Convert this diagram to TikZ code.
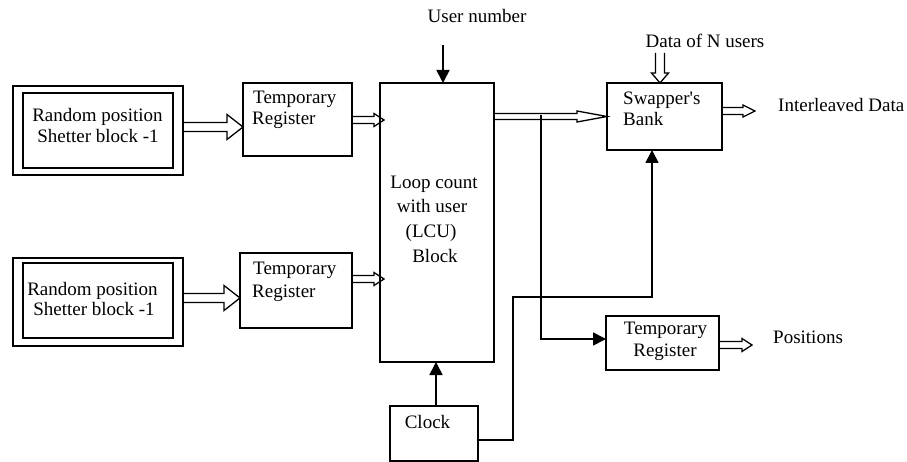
\documentclass[tikz,border=0pt]{standalone}
\usepackage{fontspec}
\setmainfont{Liberation Serif}[Ligatures=TeXOff]
\usetikzlibrary{arrows.meta,calc}
\tikzset{
  box/.style={draw, line width=1.6pt, inner sep=0pt, outer sep=0pt},
  txt/.style={inner sep=0pt, font=\fontsize{19pt}{21pt}\selectfont},
  hollow/.style={draw, line width=1.3pt, line join=miter},
  conn/.style={line width=1.7pt, -{Triangle[length=13pt,width=13pt]}},
  wire/.style={line width=1.7pt}
}
\newcommand\hollowH[5]{\draw[hollow] let \p1=#1, \p2=#2 in
  (\x1,\y1-#3) -- (\x2-#5,\y1-#3) -- (\x2-#5,\y1-#4) -- (\x2,\y1) --
  (\x2-#5,\y1+#4) -- (\x2-#5,\y1+#3) -- (\x1,\y1+#3);}
\newcommand\hollowV[5]{\draw[hollow] let \p1=#1, \p2=#2 in
  (\x1-#3,\y1) -- (\x1-#3,\y2+#5) -- (\x1-#4,\y2+#5) -- (\x1,\y2) --
  (\x1+#4,\y2+#5) -- (\x1+#3,\y2+#5) -- (\x1+#3,\y1);}
\begin{document}
\begin{tikzpicture}[x=1pt,y=-1pt]
\useasboundingbox (0,0) rectangle (907,462);
% boxes
\node[box, minimum width=170pt, minimum height=89pt] (rpo1) at (98,130.5) {};
\node[box, minimum width=150pt, minimum height=75pt] (rpi1) at (98,130.5) {};
\node[box, minimum width=170pt, minimum height=88pt] (rpo2) at (98,302) {};
\node[box, minimum width=150pt, minimum height=75pt] (rpi2) at (98,300.5) {};
\node[box, minimum width=109pt, minimum height=73pt] (tr1) at (297.5,119.5) {};
\node[box, minimum width=112pt, minimum height=75pt] (tr2) at (296,290.5) {};
\node[box, minimum width=114pt, minimum height=279pt] (lcu) at (437,222.5) {};
\node[box, minimum width=115pt, minimum height=67pt] (sw) at (664.5,116.5) {};
\node[box, minimum width=113pt, minimum height=54pt] (tr3) at (662.5,343) {};
\node[box, minimum width=88pt, minimum height=55pt] (clk) at (434,433.5) {};
% texts
\node[txt, anchor=base] (rp1a) at (97.5,122) {Random position};
\node[txt, anchor=base] (rp1b) at (98,143) {Shetter block -1};
\node[txt, anchor=base] (rp2a) at (92.5,295) {Random position};
\node[txt, anchor=base] (rp2b) at (94,315) {Shetter block -1};
\node[txt, anchor=base west] (t1a) at (253,104) {Temporary};
\node[txt, anchor=base west] (t1b) at (252,125) {Register};
\node[txt, anchor=base west] (t2a) at (253,275) {Temporary};
\node[txt, anchor=base west] (t2b) at (252,297) {Register};
\node[txt, anchor=base] (un) at (477,23) {User number};
\node[txt, anchor=base] (l1) at (434,189) {Loop count};
\node[txt, anchor=base] (l2) at (432,213) {with user};
\node[txt, anchor=base] (l3) at (431,238) {(LCU)};
\node[txt, anchor=base] (l4) at (435,262) {Block};
\node[txt, anchor=base west] (s1) at (623,105) {Swapper's};
\node[txt, anchor=base west] (s2) at (623,126) {Bank};
\node[txt, anchor=base] (dn) at (705,48) {Data of N users};
\node[txt, anchor=base west] (il) at (778,112) {Interleaved Data};
\node[txt, anchor=base] (ck) at (427.5,428) {Clock};
\node[txt, anchor=base] (t3a) at (665.5,334) {Temporary};
\node[txt, anchor=base] (t3b) at (665,356) {Register};
\node[txt, anchor=base west] (pos) at (773,343) {Positions};
% hollow arrows
\hollowH{([yshift=3.5pt]rpo1.east)}{(tr1.west)}{4.5pt}{12.5pt}{16pt}
\hollowH{([yshift=4pt]rpo2.east)}{(tr2.west)}{4.5pt}{12.5pt}{16pt}
\hollowH{([yshift=-0.5pt]tr1.east)}{([xshift=4pt]lcu.west)}{3.5pt}{6.5pt}{10pt}
\hollowH{([yshift=11.5pt]tr2.east)}{([xshift=4pt]lcu.west)}{3.5pt}{6.5pt}{10pt}
\hollowH{(lcu.east |- sw.west)}{(sw.west)}{3pt}{5.5pt}{30pt}
\hollowH{([yshift=5.5pt]sw.east)}{([xshift=-23pt]il.west)}{3.5pt}{6pt}{12pt}
\hollowH{([yshift=-2pt]tr3.east)}{([xshift=-21pt]pos.west)}{3.5pt}{6.5pt}{10pt}
\hollowV{([xshift=-45pt,yshift=-5pt]dn.base)}{(sw.north)}{4.5pt}{8.5pt}{10pt}
% solid connectors
\coordinate (unin) at (443,45);
\draw[conn] (unin) -- (unin |- lcu.north);
\draw[conn] ([xshift=2pt]clk.north) -- ([xshift=2pt]clk.north |- lcu.south);
\coordinate (br) at (541,115);
\draw[conn] (br) |- ([yshift=4pt]tr3.west);
\coordinate (c1) at (513,297);
\draw[conn] ([yshift=-6.5pt]clk.east) -| (c1) -| ([xshift=-12.5pt]sw.south);
\end{tikzpicture}
\end{document}
